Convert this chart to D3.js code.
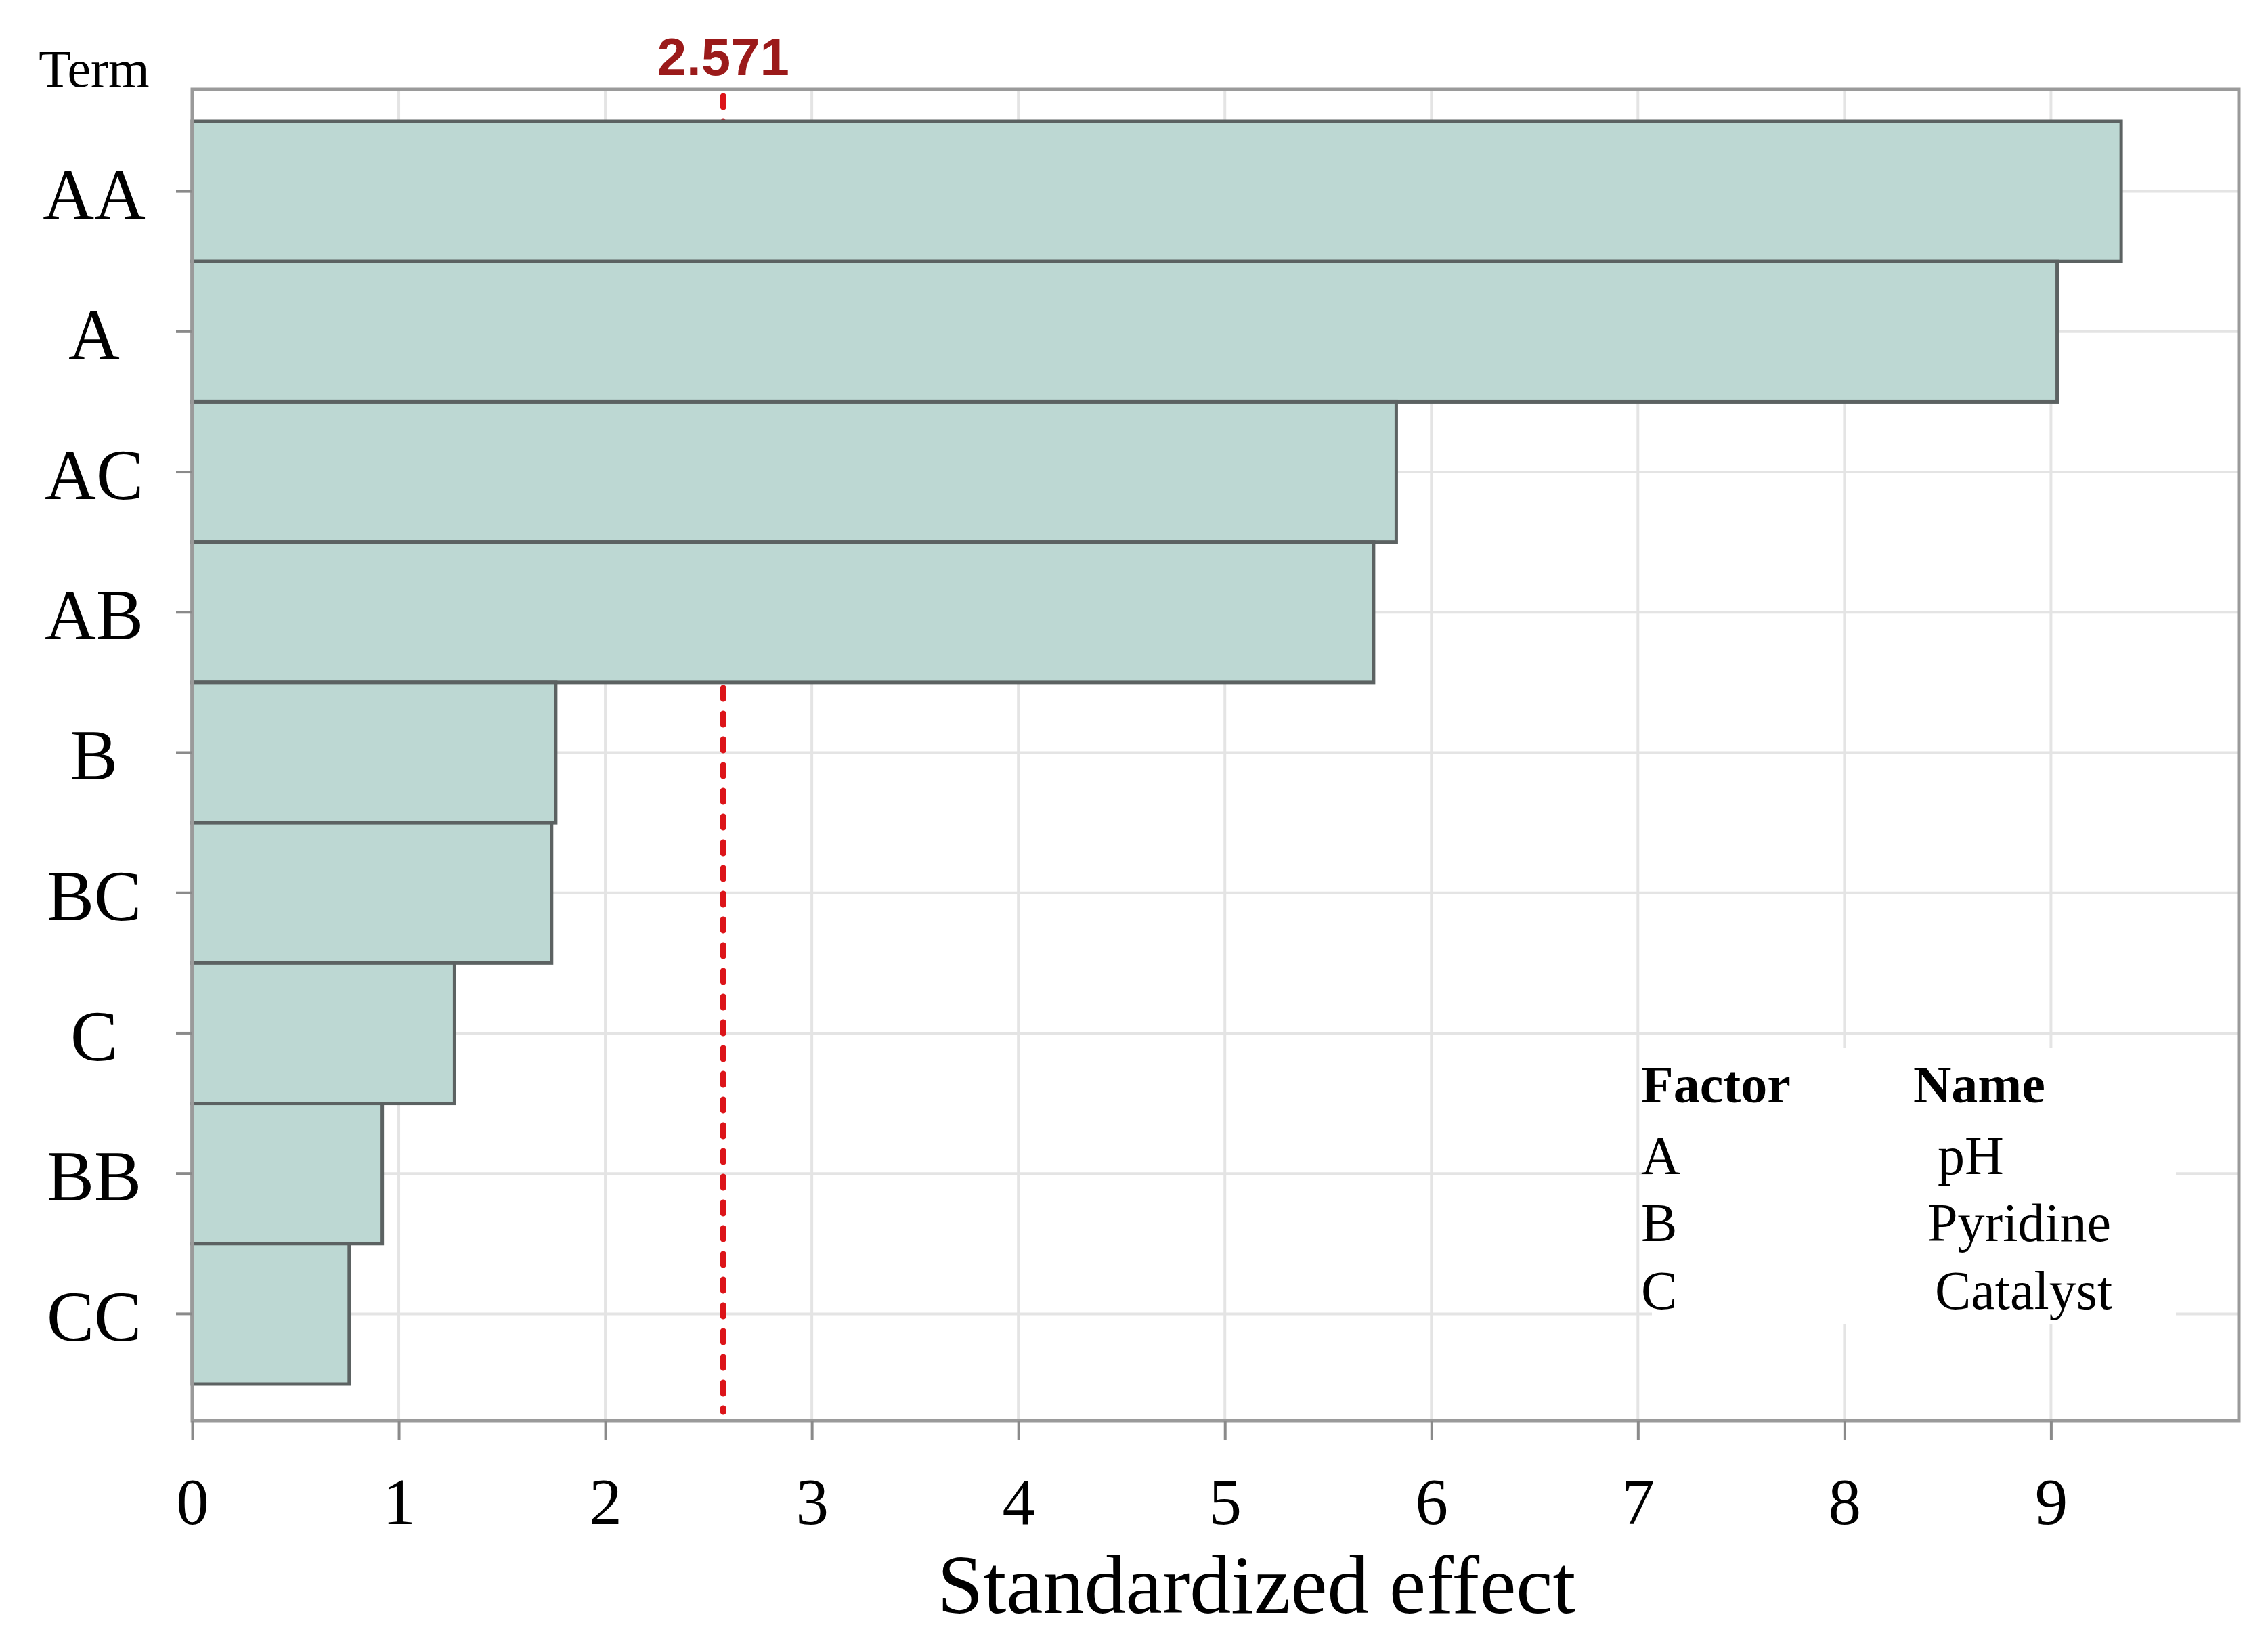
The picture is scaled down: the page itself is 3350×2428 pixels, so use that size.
<!DOCTYPE html>
<html>
<head>
<meta charset="utf-8">
<script src="https://cdn.jsdelivr.net/npm/d3@7"></script>
<style>
  body { margin: 0; background: white; }
  text { font-family: "Liberation Serif", "DejaVu Serif", serif; fill: #000; }
</style>
</head>
<body>
<div class="container"></div>
<script>
// data
const terms = ["AA", "A", "AC", "AB", "B", "BC", "C", "BB", "CC"]
const effects = [9.34, 9.03, 5.83, 5.72, 1.76, 1.74, 1.27, 0.92, 0.76]
const xTicks = [0, 1, 2, 3, 4, 5, 6, 7, 8, 9]
const refValue = 2.571
const factors = ["A", "B", "C"]
const factorNames = ["pH", "Pyridine", "Catalyst"]

const width = 3350
const height = 2428
const frame = {left: 284, right: 3307, top: 132, bottom: 2098}

const svg = d3.select(".container")
    .append("svg")
    .attr("width", width)
    .attr("height", height)

// scales
const x = d3.scaleLinear()
    .domain([0, 9.91])
    .range([frame.left, frame.right])

const y = d3.scaleBand()
    .domain(terms)
    .range([179, 2044])
    .padding(0)

// gridlines
svg.append("g")
    .selectAll("line")
    .data(xTicks.slice(1))
    .join("line")
    .attr("x1", d => x(d))
    .attr("x2", d => x(d))
    .attr("y1", frame.top)
    .attr("y2", frame.bottom)
    .attr("stroke", "#e4e4e4")
    .attr("stroke-width", 4)

svg.append("g")
    .selectAll("line")
    .data(terms)
    .join("line")
    .attr("x1", frame.left)
    .attr("x2", frame.right)
    .attr("y1", d => y(d) + y.bandwidth() / 2)
    .attr("y2", d => y(d) + y.bandwidth() / 2)
    .attr("stroke", "#e4e4e4")
    .attr("stroke-width", 4)

// legend background hides the grid
svg.append("rect")
    .attr("x", 2440)
    .attr("y", 1548)
    .attr("width", 774)
    .attr("height", 408)
    .attr("fill", "white")

// reference line
svg.append("line")
    .attr("x1", x(refValue))
    .attr("x2", x(refValue))
    .attr("y1", frame.top + 10)
    .attr("y2", 2085)
    .attr("stroke", "#dc1419")
    .attr("stroke-width", 9)
    .attr("stroke-linecap", "round")
    .attr("stroke-dasharray", "16,22")

svg.append("text")
    .attr("x", x(refValue))
    .attr("y", 111)
    .attr("text-anchor", "middle")
    .style("font-family", "'Liberation Sans', Arial, sans-serif")
    .style("font-weight", "bold")
    .style("font-size", "78px")
    .style("fill", "#9b1a1a")
    .text(refValue.toFixed(3))

// bars
svg.append("g")
    .selectAll("rect")
    .data(terms)
    .join("rect")
    .attr("x", x(0))
    .attr("y", d => y(d))
    .attr("width", (d, i) => x(effects[i]) - x(0))
    .attr("height", y.bandwidth())
    .attr("fill", "#bdd8d3")
    .attr("stroke", "#5c6262")
    .attr("stroke-width", 5)

// frame
svg.append("rect")
    .attr("x", frame.left)
    .attr("y", frame.top)
    .attr("width", frame.right - frame.left)
    .attr("height", frame.bottom - frame.top)
    .attr("fill", "none")
    .attr("stroke", "#9a9a9a")
    .attr("stroke-width", 5)

// axes
const xAxis = svg.append("g")
    .attr("transform", `translate(0, ${frame.bottom})`)
    .call(d3.axisBottom(x).tickValues(xTicks).tickSize(28).tickPadding(56))

xAxis.select(".domain").remove()
xAxis.selectAll(".tick line").attr("stroke", "#8a8a8a").attr("stroke-width", 4)
xAxis.selectAll(".tick text")
    .style("font-size", "97px")
    .style("font-family", "'Liberation Serif', serif")
    .attr("fill", "#000")

const yAxis = svg.append("g")
    .attr("transform", `translate(${frame.left}, 0)`)
    .call(d3.axisLeft(y).tickSize(24).tickPadding(0))

yAxis.select(".domain").remove()
yAxis.selectAll(".tick line").attr("stroke", "#8a8a8a").attr("stroke-width", 4)
yAxis.selectAll(".tick text")
    .attr("x", 139 - frame.left)
    .attr("dy", "0.38em")
    .attr("text-anchor", "middle")
    .style("font-size", "105px")
    .style("font-family", "'Liberation Serif', serif")
    .attr("fill", "#000")

// axis titles
svg.append("text")
    .attr("x", 1856)
    .attr("y", 2382)
    .attr("text-anchor", "middle")
    .style("font-size", "122px")
    .text("Standardized effect")

svg.append("text")
    .attr("x", 139)
    .attr("y", 128)
    .attr("text-anchor", "middle")
    .style("font-size", "78px")
    .text("Term")

// factor legend
const legend = svg.append("g")

legend.append("text")
    .attr("x", 2424)
    .attr("y", 1628)
    .style("font-size", "78px")
    .style("font-weight", "bold")
    .text("Factor")

legend.append("text")
    .attr("x", 2826)
    .attr("y", 1628)
    .style("font-size", "78px")
    .style("font-weight", "bold")
    .text("Name")

const rowY = [1734, 1833, 1933]
const nameX = [2862, 2847, 2858]

legend.selectAll(".factor")
    .data(factors)
    .join("text")
    .attr("class", "factor")
    .attr("x", 2424)
    .attr("y", (d, i) => rowY[i])
    .style("font-size", "80px")
    .text(d => d)

legend.selectAll(".fname")
    .data(factorNames)
    .join("text")
    .attr("class", "fname")
    .attr("x", (d, i) => nameX[i])
    .attr("y", (d, i) => rowY[i])
    .style("font-size", "80px")
    .text(d => d)
</script>
</body>
</html>
